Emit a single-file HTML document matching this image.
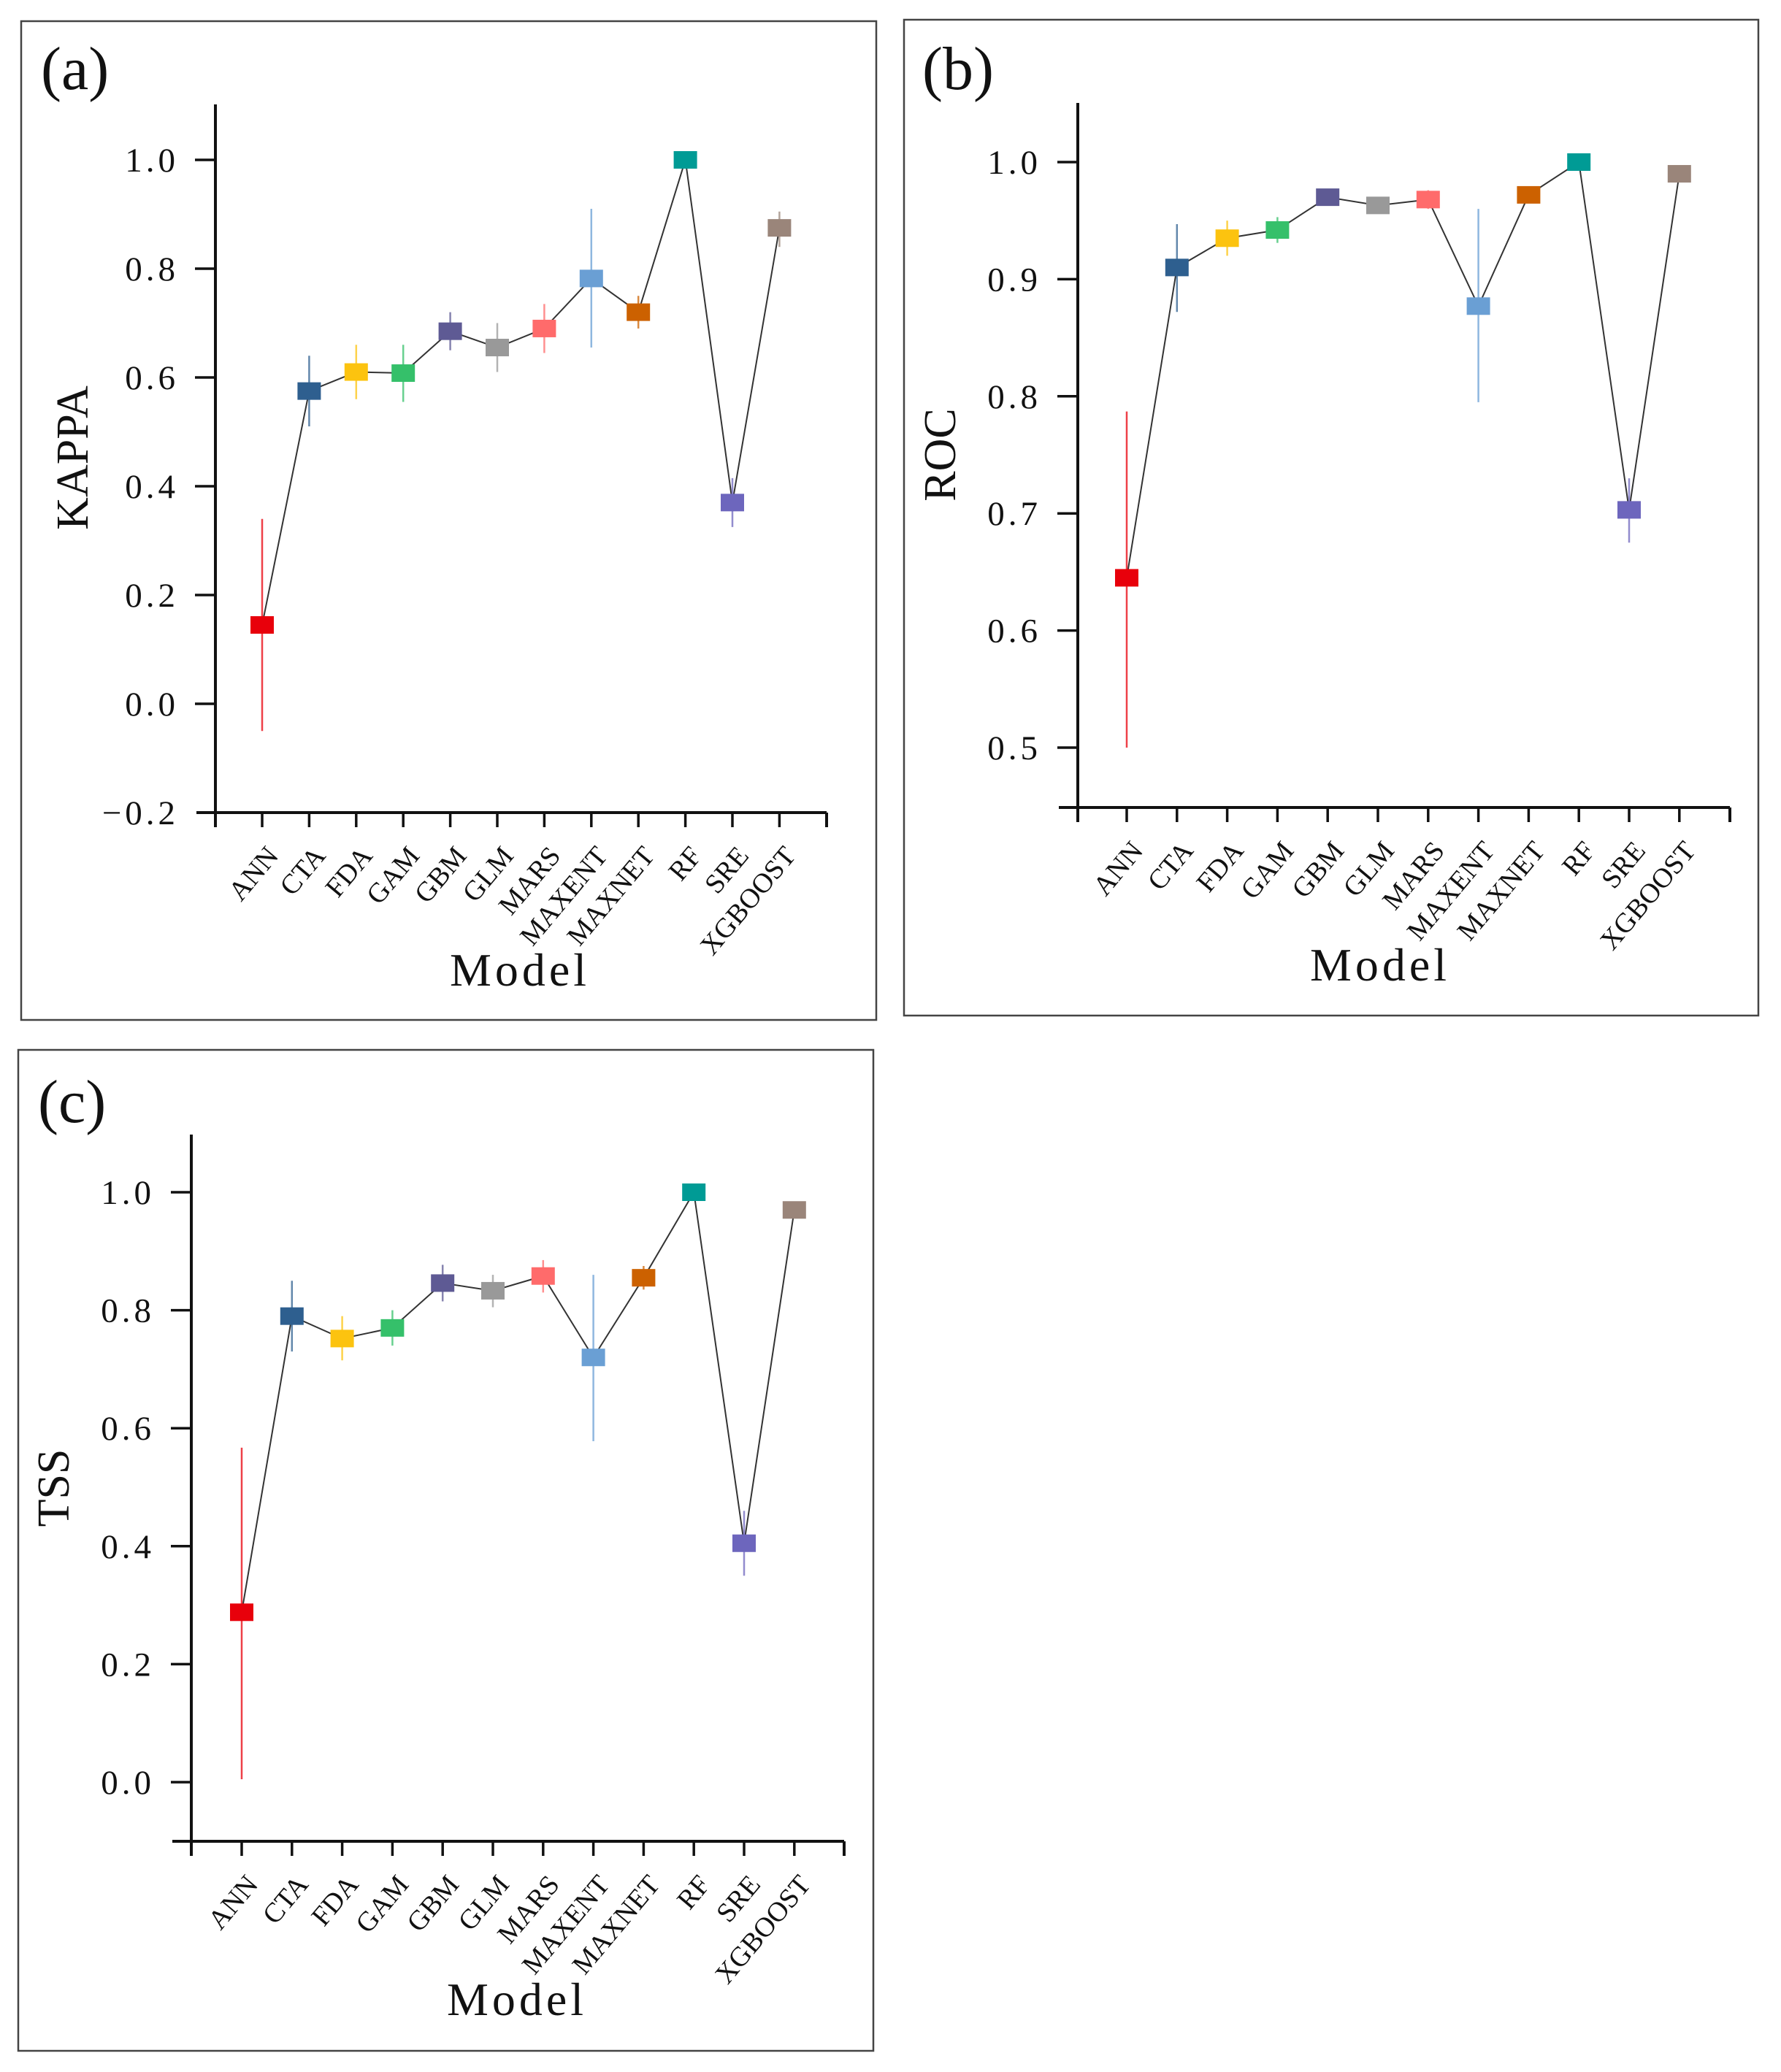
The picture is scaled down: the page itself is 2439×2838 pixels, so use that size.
<!DOCTYPE html>
<html><head><meta charset="utf-8"><style>
html,body{margin:0;padding:0;background:#fff;}
svg{display:block;}
text{font-family:"Liberation Serif",serif;fill:#111;}
</style></head><body>
<svg id="chart" width="2439" height="2838" viewBox="0 0 2439 2838" xmlns="http://www.w3.org/2000/svg"></svg>
<script>
const models = ["ANN","CTA","FDA","GAM","GBM","GLM","MARS","MAXENT","MAXNET","RF","SRE","XGBOOST"];
const colors = ["#e8000b","#2e5f8f","#fcc30f","#35c06a","#5e5a94","#999999","#ff6b6b","#6a9fd4","#cc6100","#009b95","#6d66bd","#9a857a"];
const kappaMean = [0.145,0.575,0.61,0.608,0.685,0.655,0.69,0.782,0.72,1.0,0.37,0.875];
const kappaLow  = [-0.05,0.51,0.56,0.555,0.65,0.61,0.645,0.655,0.69,1.0,0.325,0.84];
const kappaHigh = [0.34,0.64,0.66,0.66,0.72,0.70,0.735,0.91,0.75,1.0,0.415,0.905];
const rocMean = [0.645,0.91,0.935,0.942,0.97,0.963,0.968,0.877,0.972,1.0,0.703,0.99];
const rocLow  = [0.50,0.872,0.92,0.931,0.968,0.961,0.96,0.795,0.97,1.0,0.675,0.988];
const rocHigh = [0.787,0.947,0.95,0.953,0.972,0.965,0.976,0.96,0.974,1.0,0.73,0.992];
const tssMean = [0.288,0.79,0.752,0.77,0.846,0.833,0.858,0.72,0.855,1.0,0.405,0.97];
const tssLow  = [0.005,0.73,0.715,0.74,0.815,0.805,0.83,0.578,0.835,1.0,0.35,0.965];
const tssHigh = [0.567,0.85,0.79,0.80,0.877,0.86,0.885,0.86,0.875,1.0,0.46,0.975];
const kappaTicks = [-0.2,0,0.2,0.4,0.6,0.8,1.0];
const rocTicks = [0.5,0.6,0.7,0.8,0.9,1.0];
const tssTicks = [0,0.2,0.4,0.6,0.8,1.0];

const NS="http://www.w3.org/2000/svg";
const svg=document.getElementById('chart');
function mk(tag,attrs,parent){const e=document.createElementNS(NS,tag);for(const k in attrs)e.setAttribute(k,attrs[k]);(parent||svg).appendChild(e);return e;}

function panel(cfg){
  const g=mk('g',{});
  
  
  const box=mk('rect',{x:cfg.box[0],y:cfg.box[1],width:cfg.box[2]-cfg.box[0],height:cfg.box[3]-cfg.box[1],fill:'none',stroke:'#444','stroke-width':2.5},g);
  
  
  const yScale=v=>cfg.y1px+(cfg.v1-v)*(cfg.y0px-cfg.y1px)/(cfg.v1-cfg.v0);
  const xScale=i=>cfg.x0+i*cfg.dx;
  const ya=mk('line',{x1:cfg.ax,y1:cfg.top,x2:cfg.ax,y2:cfg.bottom+20,stroke:'#111','stroke-width':4},g);
  
  
  const xa=mk('line',{x1:cfg.ax-26,y1:cfg.bottom,x2:cfg.xend,y2:cfg.bottom,stroke:'#111','stroke-width':4},g);
  
  
  mk('line',{x1:cfg.xend,y1:cfg.bottom,x2:cfg.xend,y2:cfg.bottom+20,stroke:'#111','stroke-width':4},g);
  cfg.ticks.forEach(t=>{
    const y=yScale(t);
    if(Math.abs(y-cfg.bottom)>2) mk('line',{x1:cfg.ax-28,y1:y,x2:cfg.ax,y2:y,stroke:'#111','stroke-width':3.5},g);
    const tl=mk('text',{x:cfg.ax-50,y:y+16,'text-anchor':'end','font-size':47,'letter-spacing':5},g);
    tl.textContent=(t<0?'\u2212':'')+Math.abs(t).toFixed(1);
    
    
  });
  models.forEach((m,i)=>{
    const x=xScale(i);
    mk('line',{x1:x,y1:cfg.bottom,x2:x,y2:cfg.bottom+20,stroke:'#111','stroke-width':3.5},g);
    const lx=x+24, ly=cfg.bottom+60;
    const lab=mk('text',{x:lx,y:ly,'text-anchor':'end','font-size':38,transform:`rotate(-50 ${lx} ${ly})`},g);
    lab.textContent=m;
    
    
  });
  const pts=cfg.mean.map((v,i)=>xScale(i)+','+yScale(v)).join(' ');
  const pl=mk('polyline',{points:pts,fill:'none',stroke:'#333','stroke-width':2},g);
  
  
  cfg.mean.forEach((v,i)=>{
    const x=xScale(i);
    const eb=mk('line',{x1:x,y1:yScale(cfg.low[i]),x2:x,y2:yScale(cfg.high[i]),stroke:colors[i],'stroke-width':2.5,'stroke-opacity':0.75},g);
    
    
  });
  cfg.mean.forEach((v,i)=>{
    const x=xScale(i);
    const r=mk('rect',{x:x-16,y:yScale(v)-12,width:32,height:24,fill:colors[i]},g);
    
    
  });
  const yt=mk('text',{x:cfg.yt[0],y:cfg.yt[1],'text-anchor':'middle','font-size':62,transform:`rotate(-90 ${cfg.yt[0]} ${cfg.yt[1]})`},g);
  yt.textContent=cfg.ytitle;
  
  
  const xt=mk('text',{x:cfg.xt[0],y:cfg.xt[1],'text-anchor':'middle','font-size':64,'letter-spacing':5},g);
  xt.textContent='Model';
  
  
  const pn=mk('text',{x:cfg.pl[0],y:cfg.pl[1],'font-size':84},g);
  pn.textContent='('+cfg.id+')';
  
  
}

panel({id:'a',box:[29,29,1200,1397],ax:295,top:143,bottom:1113,xend:1132,x0:359,dx:64.4,
  v0:-0.2,y0px:1113,v1:1.0,y1px:219,ticks:kappaTicks,mean:kappaMean,low:kappaLow,high:kappaHigh,
  ytitle:'KAPPA',yt:[120,627],xt:[712,1350],pl:[56,122]});
panel({id:'b',box:[1238,27,2408,1391],ax:1476,top:141,bottom:1106,xend:2369,x0:1543,dx:68.8,
  v0:0.5,y0px:1024,v1:1.0,y1px:222,ticks:rocTicks,mean:rocMean,low:rocLow,high:rocHigh,
  ytitle:'ROC',yt:[1308,623],xt:[1890,1343],pl:[1263,122]});
panel({id:'c',box:[25,1438,1196,2809],ax:262,top:1554,bottom:2522,xend:1156,x0:331,dx:68.8,
  v0:0,y0px:2441,v1:1.0,y1px:1633,ticks:tssTicks,mean:tssMean,low:tssLow,high:tssHigh,
  ytitle:'TSS',yt:[94,2038],xt:[708,2760],pl:[52,1537]});
</script>
</body></html>
